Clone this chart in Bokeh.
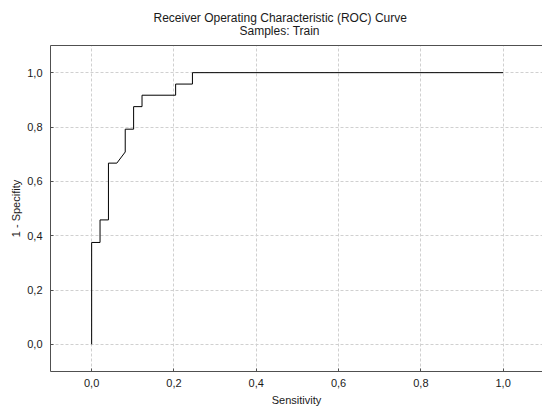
from bokeh.plotting import figure
from bokeh.models import Range1d, FixedTicker, LinearAxis, Title
from bokeh.embed import file_html
from bokeh.resources import INLINE

# ROC curve points
sensitivity = [0.0, 0.0, 0.0204, 0.0204, 0.0408, 0.0408, 0.0612, 0.0816, 0.0816,
               0.102, 0.102, 0.1224, 0.1224, 0.2041, 0.2041, 0.2449, 0.2449, 1.0]
one_minus_specificity = [0.0, 0.375, 0.375, 0.458, 0.458, 0.667, 0.667, 0.708, 0.792,
                         0.792, 0.875, 0.875, 0.917, 0.917, 0.958, 0.958, 1.0, 1.0]

x_ticks = [0.0, 0.2, 0.4, 0.6, 0.8, 1.0]
x_tick_labels = ["0,0", "0,2", "0,4", "0,6", "0,8", "1,0"]
y_ticks = [0.0, 0.2, 0.4, 0.6, 0.8, 1.0]
y_tick_labels = ["0,0", "0,2", "0,4", "0,6", "0,8", "1,0"]

title_line1 = "Receiver Operating Characteristic (ROC) Curve"
title_line2 = "Samples: Train"

FONT = "Liberation Sans"
AXIS_COLOR = "#505050"
TEXT_COLOR = "#1a1a1a"

p = figure(width=542, height=408, output_backend="svg", toolbar_location=None,
           x_range=Range1d(-0.1, 1.0956), y_range=Range1d(-0.1, 1.1),
           min_border_left=50, min_border_right=0, min_border_top=45, min_border_bottom=37,
           title=None, x_axis_label="Sensitivity", y_axis_label="1 - Specifity")
p.outline_line_color = None
p.background_fill_color = "white"
p.border_fill_color = "white"

xa = p.xaxis[0]
xa.ticker = FixedTicker(ticks=x_ticks)
xa.major_label_overrides = {t: l for t, l in zip(x_ticks, x_tick_labels)}
ya = p.yaxis[0]
ya.ticker = FixedTicker(ticks=y_ticks)
ya.major_label_overrides = {t: l for t, l in zip(y_ticks, y_tick_labels)}

for ax in (xa, ya):
    ax.minor_tick_line_color = None
    ax.major_tick_in = 3
    ax.major_tick_out = 0
    ax.major_tick_line_color = AXIS_COLOR
    ax.axis_line_color = AXIS_COLOR
    ax.major_label_text_font = FONT
    ax.major_label_text_font_size = "11px"
    ax.major_label_text_color = TEXT_COLOR
    ax.axis_label_text_font = FONT
    ax.axis_label_text_font_size = "11px"
    ax.axis_label_text_font_style = "normal"
    ax.axis_label_text_color = TEXT_COLOR

xa.major_label_standoff = 7
xa.axis_label_standoff = 4
ya.major_label_standoff = 8
ya.axis_label_standoff = 2

top = LinearAxis(ticker=FixedTicker(ticks=[]), axis_line_color=AXIS_COLOR,
                 minor_tick_line_color=None, major_tick_line_color=None,
                 major_tick_in=0, major_tick_out=0, major_label_standoff=0)
p.add_layout(top, "above")

t2 = Title(text=title_line2, align="left", offset=189, text_font=FONT,
           text_font_size="12px", text_font_style="normal", text_color=TEXT_COLOR, standoff=16)
p.add_layout(t2, "above")
t1 = Title(text=title_line1, align="left", offset=103, text_font=FONT,
           text_font_size="12px", text_font_style="normal", text_color=TEXT_COLOR, standoff=-22)
p.add_layout(t1, "above")

for g in (p.xgrid[0], p.ygrid[0]):
    g.grid_line_color = "#d0d0d0"
    g.grid_line_dash = "3 2"
    g.grid_line_width = 1

p.line(sensitivity, one_minus_specificity, line_color="black", line_width=1)

open("out.html", "w").write(file_html(p, INLINE))
